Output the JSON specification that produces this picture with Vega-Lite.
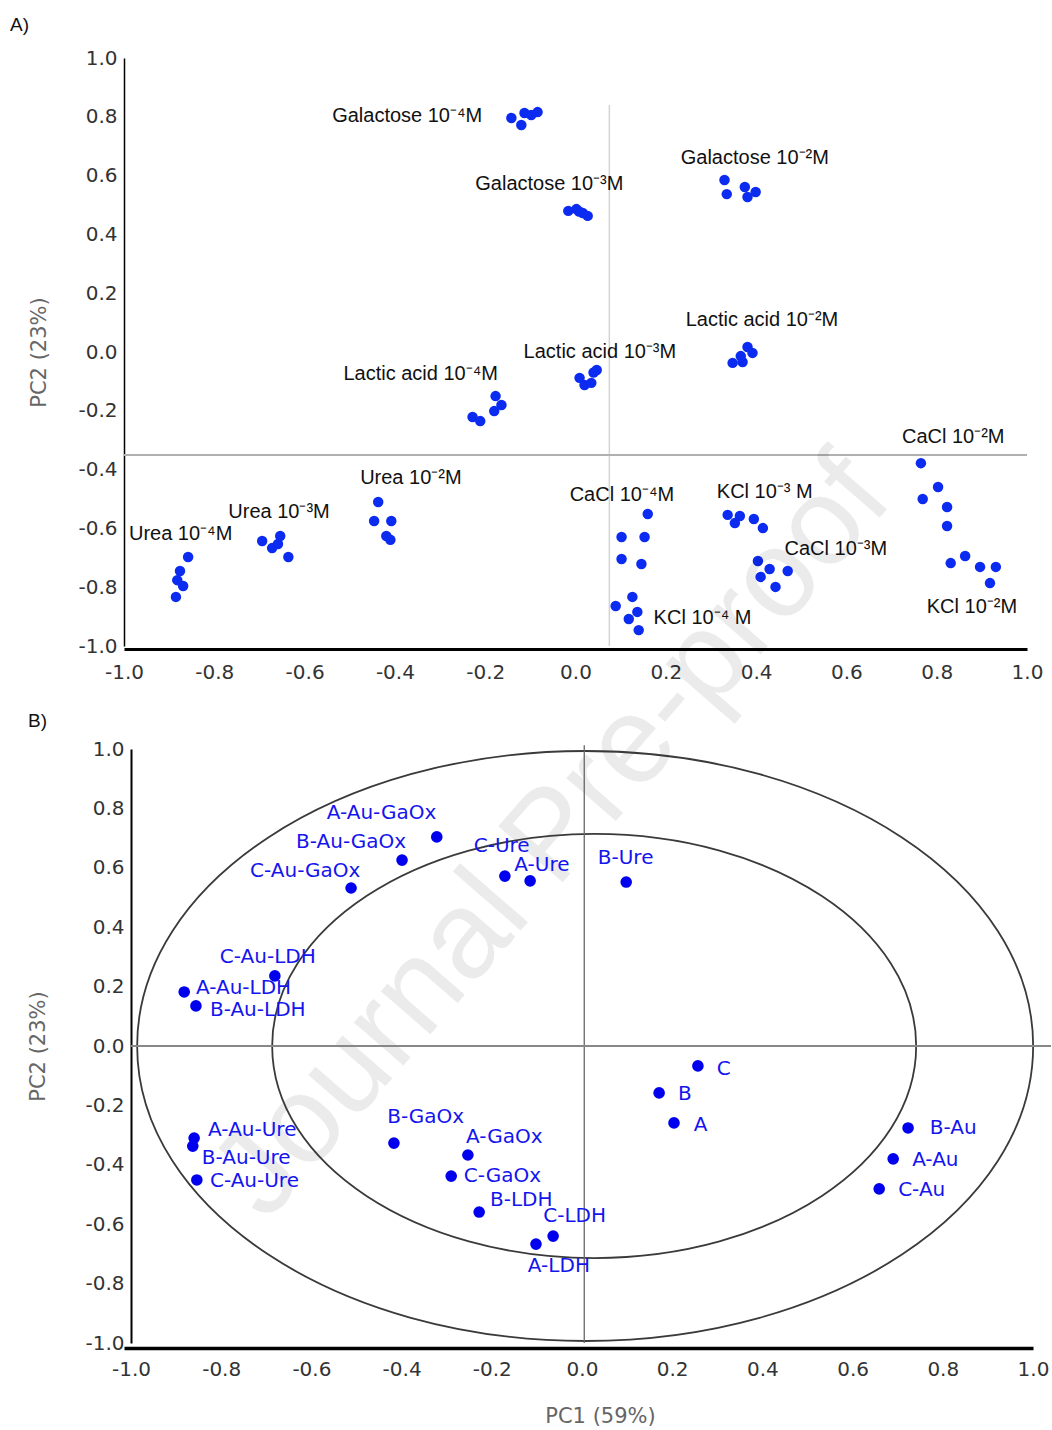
{
  "$schema": "https://vega.github.io/schema/vega-lite/v6.json",
  "background": "white",
  "padding": {"left": 10, "top": 16, "right": 0, "bottom": 0},
  "bounds": "flush",
  "spacing": 103,
  "config": {
    "view": {"stroke": null},
    "axis": {"grid": false, "ticks": false, "labelFont": "DejaVu Sans", "labelFontSize": 20, "labelColor": "#333", "titleFont": "DejaVu Sans", "titleFontSize": 21, "titleFontWeight": "normal", "titleColor": "#666", "domainColor": "#000", "labelFlush": false, "labelOverlap": false, "labelBound": false},
    "title": {"font": "Liberation Sans", "fontSize": 19, "fontWeight": "normal", "color": "#111"}
  },
  "datasets": {
    "one": [{}],
    "pcaA": [
      {"group": "Galactose 1e-4", "pc1": -0.142, "pc2": 0.796},
      {"group": "Galactose 1e-4", "pc1": -0.120, "pc2": 0.772},
      {"group": "Galactose 1e-4", "pc1": -0.113, "pc2": 0.813},
      {"group": "Galactose 1e-4", "pc1": -0.098, "pc2": 0.806},
      {"group": "Galactose 1e-4", "pc1": -0.084, "pc2": 0.816},
      {"group": "Galactose 1e-3", "pc1": -0.016, "pc2": 0.480},
      {"group": "Galactose 1e-3", "pc1": 0.002, "pc2": 0.486},
      {"group": "Galactose 1e-3", "pc1": 0.008, "pc2": 0.478},
      {"group": "Galactose 1e-3", "pc1": 0.016, "pc2": 0.473},
      {"group": "Galactose 1e-3", "pc1": 0.027, "pc2": 0.463},
      {"group": "Galactose 1e-2", "pc1": 0.330, "pc2": 0.585},
      {"group": "Galactose 1e-2", "pc1": 0.335, "pc2": 0.537},
      {"group": "Galactose 1e-2", "pc1": 0.375, "pc2": 0.561},
      {"group": "Galactose 1e-2", "pc1": 0.381, "pc2": 0.527},
      {"group": "Galactose 1e-2", "pc1": 0.399, "pc2": 0.544},
      {"group": "Lactic acid 1e-4", "pc1": -0.228, "pc2": -0.221},
      {"group": "Lactic acid 1e-4", "pc1": -0.211, "pc2": -0.235},
      {"group": "Lactic acid 1e-4", "pc1": -0.177, "pc2": -0.150},
      {"group": "Lactic acid 1e-4", "pc1": -0.164, "pc2": -0.180},
      {"group": "Lactic acid 1e-4", "pc1": -0.180, "pc2": -0.201},
      {"group": "Lactic acid 1e-3", "pc1": 0.009, "pc2": -0.088},
      {"group": "Lactic acid 1e-3", "pc1": 0.020, "pc2": -0.112},
      {"group": "Lactic acid 1e-3", "pc1": 0.035, "pc2": -0.105},
      {"group": "Lactic acid 1e-3", "pc1": 0.047, "pc2": -0.061},
      {"group": "Lactic acid 1e-3", "pc1": 0.040, "pc2": -0.070},
      {"group": "Lactic acid 1e-2", "pc1": 0.348, "pc2": -0.037},
      {"group": "Lactic acid 1e-2", "pc1": 0.370, "pc2": -0.034},
      {"group": "Lactic acid 1e-2", "pc1": 0.381, "pc2": 0.017},
      {"group": "Lactic acid 1e-2", "pc1": 0.392, "pc2": -0.003},
      {"group": "Lactic acid 1e-2", "pc1": 0.366, "pc2": -0.014},
      {"group": "Urea 1e-4", "pc1": -0.858, "pc2": -0.697},
      {"group": "Urea 1e-4", "pc1": -0.876, "pc2": -0.745},
      {"group": "Urea 1e-4", "pc1": -0.882, "pc2": -0.776},
      {"group": "Urea 1e-4", "pc1": -0.869, "pc2": -0.796},
      {"group": "Urea 1e-4", "pc1": -0.885, "pc2": -0.833},
      {"group": "Urea 1e-3", "pc1": -0.694, "pc2": -0.643},
      {"group": "Urea 1e-3", "pc1": -0.672, "pc2": -0.667},
      {"group": "Urea 1e-3", "pc1": -0.654, "pc2": -0.626},
      {"group": "Urea 1e-3", "pc1": -0.659, "pc2": -0.653},
      {"group": "Urea 1e-3", "pc1": -0.636, "pc2": -0.697},
      {"group": "Urea 1e-2", "pc1": -0.437, "pc2": -0.510},
      {"group": "Urea 1e-2", "pc1": -0.446, "pc2": -0.575},
      {"group": "Urea 1e-2", "pc1": -0.408, "pc2": -0.575},
      {"group": "Urea 1e-2", "pc1": -0.419, "pc2": -0.626},
      {"group": "Urea 1e-2", "pc1": -0.410, "pc2": -0.639},
      {"group": "CaCl 1e-4", "pc1": 0.160, "pc2": -0.551},
      {"group": "CaCl 1e-4", "pc1": 0.102, "pc2": -0.629},
      {"group": "CaCl 1e-4", "pc1": 0.153, "pc2": -0.629},
      {"group": "CaCl 1e-4", "pc1": 0.102, "pc2": -0.704},
      {"group": "CaCl 1e-4", "pc1": 0.146, "pc2": -0.721},
      {"group": "KCl 1e-4", "pc1": 0.089, "pc2": -0.864},
      {"group": "KCl 1e-4", "pc1": 0.126, "pc2": -0.833},
      {"group": "KCl 1e-4", "pc1": 0.137, "pc2": -0.884},
      {"group": "KCl 1e-4", "pc1": 0.118, "pc2": -0.908},
      {"group": "KCl 1e-4", "pc1": 0.140, "pc2": -0.946},
      {"group": "KCl 1e-3", "pc1": 0.337, "pc2": -0.554},
      {"group": "KCl 1e-3", "pc1": 0.353, "pc2": -0.582},
      {"group": "KCl 1e-3", "pc1": 0.364, "pc2": -0.558},
      {"group": "KCl 1e-3", "pc1": 0.395, "pc2": -0.568},
      {"group": "KCl 1e-3", "pc1": 0.415, "pc2": -0.599},
      {"group": "CaCl 1e-3", "pc1": 0.404, "pc2": -0.711},
      {"group": "CaCl 1e-3", "pc1": 0.430, "pc2": -0.738},
      {"group": "CaCl 1e-3", "pc1": 0.410, "pc2": -0.765},
      {"group": "CaCl 1e-3", "pc1": 0.470, "pc2": -0.745},
      {"group": "CaCl 1e-3", "pc1": 0.443, "pc2": -0.799},
      {"group": "CaCl 1e-2", "pc1": 0.765, "pc2": -0.378},
      {"group": "CaCl 1e-2", "pc1": 0.803, "pc2": -0.459},
      {"group": "CaCl 1e-2", "pc1": 0.769, "pc2": -0.500},
      {"group": "CaCl 1e-2", "pc1": 0.823, "pc2": -0.527},
      {"group": "CaCl 1e-2", "pc1": 0.823, "pc2": -0.592},
      {"group": "KCl 1e-2", "pc1": 0.831, "pc2": -0.718},
      {"group": "KCl 1e-2", "pc1": 0.863, "pc2": -0.694},
      {"group": "KCl 1e-2", "pc1": 0.896, "pc2": -0.731},
      {"group": "KCl 1e-2", "pc1": 0.931, "pc2": -0.731},
      {"group": "KCl 1e-2", "pc1": 0.918, "pc2": -0.786}
    ],
    "labelsA": [
      {"label": "Galactose 10⁻⁴M", "pc1": -0.539, "pc2": 0.803},
      {"label": "Galactose 10⁻³M", "pc1": -0.222, "pc2": 0.571},
      {"label": "Galactose 10⁻²M", "pc1": 0.233, "pc2": 0.660},
      {"label": "Lactic acid 10⁻²M", "pc1": 0.244, "pc2": 0.109},
      {"label": "Lactic acid 10⁻³M", "pc1": -0.115, "pc2": 0.0},
      {"label": "Lactic acid 10⁻⁴M", "pc1": -0.514, "pc2": -0.075},
      {"label": "CaCl 10⁻²M", "pc1": 0.723, "pc2": -0.289},
      {"label": "Urea 10⁻²M", "pc1": -0.477, "pc2": -0.429},
      {"label": "Urea 10⁻³M", "pc1": -0.769, "pc2": -0.544},
      {"label": "Urea 10⁻⁴M", "pc1": -0.989, "pc2": -0.619},
      {"label": "CaCl 10⁻⁴M", "pc1": -0.013, "pc2": -0.486},
      {"label": "KCl 10⁻³ M", "pc1": 0.313, "pc2": -0.476},
      {"label": "CaCl 10⁻³M", "pc1": 0.463, "pc2": -0.670},
      {"label": "KCl 10⁻⁴ M", "pc1": 0.173, "pc2": -0.905},
      {"label": "KCl 10⁻²M", "pc1": 0.778, "pc2": -0.867}
    ],
    "pcaB": [
      {"sample": "A-Au-GaOx", "pc1": -0.322, "pc2": 0.704},
      {"sample": "B-Au-GaOx", "pc1": -0.399, "pc2": 0.626},
      {"sample": "C-Au-GaOx", "pc1": -0.512, "pc2": 0.532},
      {"sample": "C-Ure", "pc1": -0.171, "pc2": 0.572},
      {"sample": "A-Ure", "pc1": -0.115, "pc2": 0.556},
      {"sample": "B-Ure", "pc1": 0.098, "pc2": 0.552},
      {"sample": "C-Au-LDH", "pc1": -0.681, "pc2": 0.236},
      {"sample": "A-Au-LDH", "pc1": -0.882, "pc2": 0.182},
      {"sample": "B-Au-LDH", "pc1": -0.856, "pc2": 0.135},
      {"sample": "C", "pc1": 0.257, "pc2": -0.067},
      {"sample": "B", "pc1": 0.171, "pc2": -0.158},
      {"sample": "A", "pc1": 0.204, "pc2": -0.259},
      {"sample": "B-Au", "pc1": 0.723, "pc2": -0.276},
      {"sample": "A-Au", "pc1": 0.690, "pc2": -0.380},
      {"sample": "C-Au", "pc1": 0.659, "pc2": -0.481},
      {"sample": "A-Au-Ure", "pc1": -0.860, "pc2": -0.310},
      {"sample": "B-Au-Ure", "pc1": -0.863, "pc2": -0.337},
      {"sample": "C-Au-Ure", "pc1": -0.854, "pc2": -0.451},
      {"sample": "B-GaOx", "pc1": -0.417, "pc2": -0.327},
      {"sample": "A-GaOx", "pc1": -0.253, "pc2": -0.367},
      {"sample": "C-GaOx", "pc1": -0.290, "pc2": -0.438},
      {"sample": "B-LDH", "pc1": -0.228, "pc2": -0.559},
      {"sample": "C-LDH", "pc1": -0.064, "pc2": -0.640},
      {"sample": "A-LDH", "pc1": -0.102, "pc2": -0.667}
    ],
    "labelsB": [
      {"sample": "A-Au-GaOx", "pc1": -0.566, "pc2": 0.785},
      {"sample": "B-Au-GaOx", "pc1": -0.634, "pc2": 0.687},
      {"sample": "C-Au-GaOx", "pc1": -0.736, "pc2": 0.589},
      {"sample": "C-Ure", "pc1": -0.240, "pc2": 0.672},
      {"sample": "A-Ure", "pc1": -0.150, "pc2": 0.610},
      {"sample": "B-Ure", "pc1": 0.035, "pc2": 0.633},
      {"sample": "C-Au-LDH", "pc1": -0.803, "pc2": 0.300},
      {"sample": "A-Au-LDH", "pc1": -0.856, "pc2": 0.195},
      {"sample": "B-Au-LDH", "pc1": -0.825, "pc2": 0.121},
      {"sample": "C", "pc1": 0.299, "pc2": -0.077},
      {"sample": "B", "pc1": 0.213, "pc2": -0.162},
      {"sample": "A", "pc1": 0.248, "pc2": -0.266},
      {"sample": "B-Au", "pc1": 0.771, "pc2": -0.276},
      {"sample": "A-Au", "pc1": 0.732, "pc2": -0.384},
      {"sample": "C-Au", "pc1": 0.701, "pc2": -0.485},
      {"sample": "A-Au-Ure", "pc1": -0.829, "pc2": -0.283},
      {"sample": "B-Au-Ure", "pc1": -0.843, "pc2": -0.377},
      {"sample": "C-Au-Ure", "pc1": -0.825, "pc2": -0.455},
      {"sample": "B-GaOx", "pc1": -0.432, "pc2": -0.239},
      {"sample": "A-GaOx", "pc1": -0.257, "pc2": -0.306},
      {"sample": "C-GaOx", "pc1": -0.262, "pc2": -0.438},
      {"sample": "B-LDH", "pc1": -0.204, "pc2": -0.519},
      {"sample": "C-LDH", "pc1": -0.086, "pc2": -0.572},
      {"sample": "A-LDH", "pc1": -0.120, "pc2": -0.741}
    ]
  },
  "vconcat": [
    {
      "width": 903,
      "height": 588,
      "title": {"text": "A)", "anchor": "start", "frame": "group", "dx": -114, "offset": 13},
      "layer": [
        {
          "data": {"name": "one"},
          "mark": {"type": "rule", "color": "#d4d4d4", "strokeWidth": 1.5},
          "encoding": {
            "x": {"datum": 0.075, "type": "quantitative", "scale": {"domain": [-1, 1], "nice": false, "zero": false}},
            "y": {"datum": 0.84, "type": "quantitative", "scale": {"domain": [-1, 1], "nice": false, "zero": false}},
            "y2": {"datum": -1}
          }
        },
        {
          "data": {"name": "one"},
          "mark": {"type": "rule", "color": "#b0b0b0", "strokeWidth": 2},
          "encoding": {
            "y": {"datum": -0.35, "type": "quantitative", "scale": {"domain": [-1, 1], "nice": false, "zero": false}},
            "x": {"datum": -1, "type": "quantitative", "scale": {"domain": [-1, 1], "nice": false, "zero": false}},
            "x2": {"datum": 1}
          }
        },
        {
          "data": {"name": "pcaA"},
          "mark": {"type": "circle", "size": 110, "color": "#0b2bf0", "opacity": 1},
          "encoding": {
            "x": {"field": "pc1", "type": "quantitative", "scale": {"domain": [-1, 1], "nice": false, "zero": false},
              "axis": {"values": [-1, -0.8, -0.6, -0.4, -0.2, 0, 0.2, 0.4, 0.6, 0.8, 1], "labelExpr": "replace(format(datum.value, '.1f'), '−', '-')", "title": null, "domainWidth": 3, "labelPadding": 13, "offset": 3}},
            "y": {"field": "pc2", "type": "quantitative", "scale": {"domain": [-1, 1], "nice": false, "zero": false},
              "axis": {"values": [-1, -0.8, -0.6, -0.4, -0.2, 0, 0.2, 0.4, 0.6, 0.8, 1], "labelExpr": "replace(format(datum.value, '.1f'), '−', '-')", "title": "PC2 (23%)", "domainWidth": 1.5, "labelPadding": 7, "titlePadding": 28}}
          }
        },
        {
          "data": {"name": "labelsA"},
          "mark": {"type": "text", "align": "left", "baseline": "middle", "font": "Liberation Sans", "fontSize": 20, "color": "#111"},
          "encoding": {
            "x": {"field": "pc1", "type": "quantitative", "scale": {"domain": [-1, 1], "nice": false, "zero": false}},
            "y": {"field": "pc2", "type": "quantitative", "scale": {"domain": [-1, 1], "nice": false, "zero": false}},
            "text": {"field": "label"}
          }
        },
        {
          "data": {"name": "one"},
          "mark": {"type": "text", "font": "Liberation Sans", "fontSize": 124, "color": "#000", "opacity": 0.075, "angle": -49, "align": "center", "baseline": "middle"},
          "encoding": {
            "x": {"datum": -0.05, "type": "quantitative", "scale": {"domain": [-1, 1], "nice": false, "zero": false}},
            "y": {"datum": -1.65, "type": "quantitative", "scale": {"domain": [-1, 1], "nice": false, "zero": false}},
            "text": {"value": "Journal Pre-proof"}
          }
        }
      ]
    },
    {
      "width": 909,
      "height": 594,
      "title": {"text": "B)", "anchor": "start", "frame": "group", "dx": -96, "offset": 8},
      "layer": [
        {
          "data": {"name": "one"},
          "mark": {"type": "point", "shape": "M-1,0A1,0.6585 0 1,1 1,0A1,0.6585 0 1,1 -1,0Z", "size": 802816, "filled": false, "stroke": "#3a3a3a", "strokeWidth": 1.8, "opacity": 1},
          "encoding": {
            "x": {"datum": 0.007, "type": "quantitative", "scale": {"domain": [-1.0155, 1], "nice": false, "zero": false}},
            "y": {"datum": 0, "type": "quantitative", "scale": {"domain": [-1, 1], "nice": false, "zero": false}}
          }
        },
        {
          "data": {"name": "one"},
          "mark": {"type": "point", "shape": "M-1,0A1,0.6585 0 1,1 1,0A1,0.6585 0 1,1 -1,0Z", "size": 414736, "filled": false, "stroke": "#3a3a3a", "strokeWidth": 1.8, "opacity": 1},
          "encoding": {
            "x": {"datum": 0.027, "type": "quantitative", "scale": {"domain": [-1.0155, 1], "nice": false, "zero": false}},
            "y": {"datum": 0, "type": "quantitative", "scale": {"domain": [-1, 1], "nice": false, "zero": false}}
          }
        },
        {
          "data": {"name": "one"},
          "mark": {"type": "rule", "color": "#666", "strokeWidth": 1.3},
          "encoding": {
            "x": {"datum": 0.005, "type": "quantitative", "scale": {"domain": [-1.0155, 1], "nice": false, "zero": false}},
            "y": {"datum": 1.013, "type": "quantitative", "scale": {"domain": [-1, 1], "nice": false, "zero": false}},
            "y2": {"datum": -1}
          }
        },
        {
          "data": {"name": "one"},
          "mark": {"type": "rule", "color": "#888", "strokeWidth": 2},
          "encoding": {
            "y": {"datum": 0, "type": "quantitative", "scale": {"domain": [-1, 1], "nice": false, "zero": false}},
            "x": {"datum": -1, "type": "quantitative", "scale": {"domain": [-1.0155, 1], "nice": false, "zero": false}},
            "x2": {"datum": 1.04}
          }
        },
        {
          "data": {"name": "pcaB"},
          "mark": {"type": "circle", "size": 135, "color": "#0000ee", "opacity": 1},
          "encoding": {
            "x": {"field": "pc1", "type": "quantitative", "scale": {"domain": [-1.0155, 1], "nice": false, "zero": false},
              "axis": {"values": [-1, -0.8, -0.6, -0.4, -0.2, 0, 0.2, 0.4, 0.6, 0.8, 1], "labelExpr": "replace(format(datum.value, '.1f'), '−', '-')", "title": "PC1 (59%)", "titleX": 476, "domainWidth": 3.5, "labelPadding": 11, "titlePadding": 26, "offset": 5}},
            "y": {"field": "pc2", "type": "quantitative", "scale": {"domain": [-1, 1], "nice": false, "zero": false},
              "axis": {"values": [-1, -0.8, -0.6, -0.4, -0.2, 0, 0.2, 0.4, 0.6, 0.8, 1], "labelExpr": "replace(format(datum.value, '.1f'), '−', '-')", "title": "PC2 (23%)", "domainWidth": 2, "labelPadding": 7, "titlePadding": 36, "offset": -7}}
          }
        },
        {
          "data": {"name": "labelsB"},
          "mark": {"type": "text", "align": "left", "baseline": "middle", "font": "DejaVu Sans", "fontSize": 20, "color": "#1414ee"},
          "encoding": {
            "x": {"field": "pc1", "type": "quantitative", "scale": {"domain": [-1.0155, 1], "nice": false, "zero": false}},
            "y": {"field": "pc2", "type": "quantitative", "scale": {"domain": [-1, 1], "nice": false, "zero": false}},
            "text": {"field": "sample"}
          }
        }
      ]
    }
  ]
}
